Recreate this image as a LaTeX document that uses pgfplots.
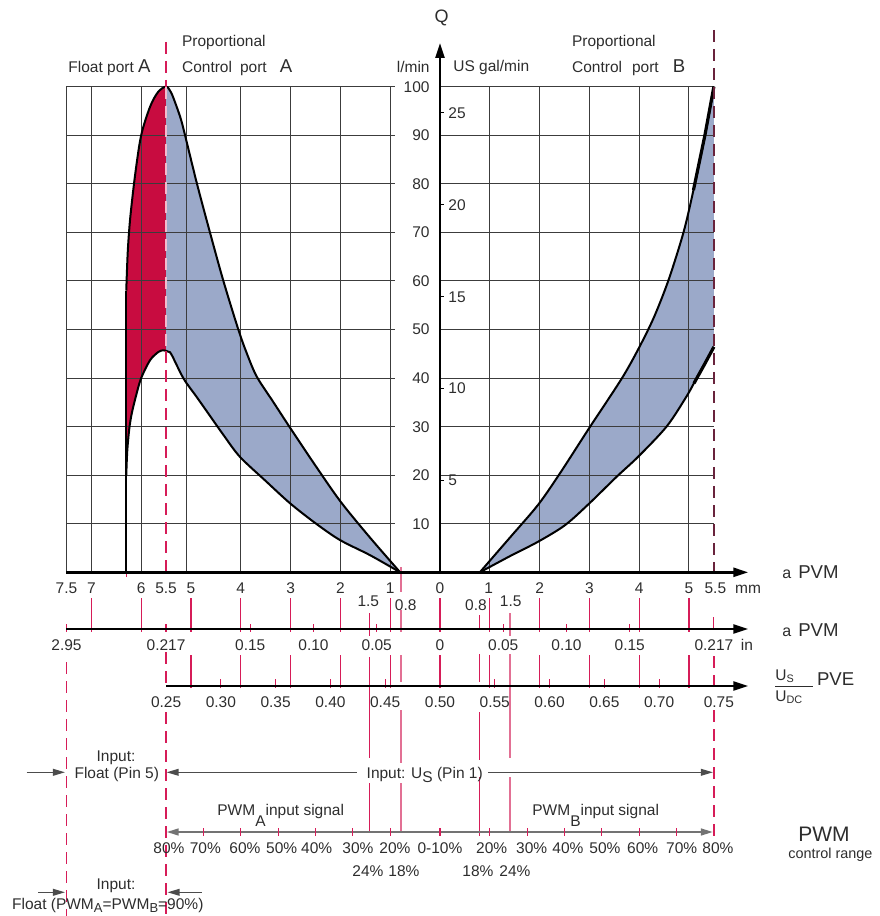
\documentclass[border=0pt]{standalone}
\usepackage{fontspec}
\setmainfont{Liberation Sans}
\usepackage{pgfplots}
\usepackage{pgfplotstable}
\pgfplotsset{compat=1.18}
\usepgfplotslibrary{fillbetween}
\usetikzlibrary{arrows.meta}

\definecolor{floatred}{RGB}{200,12,64}
\definecolor{bandblue}{RGB}{155,169,201}
\definecolor{tickred}{RGB}{214,28,88}
\definecolor{tickpink}{RGB}{226,112,148}
\definecolor{dashdark}{RGB}{105,35,60}
\definecolor{gridc}{RGB}{60,60,60}
\definecolor{txt}{RGB}{45,45,45}

% flow curves, x = spool travel in mm (port A negative), q = l/min
\pgfplotstableread{
x q
-6.30 58
-6.27 66
-6.22 73
-6.12 82
-6.00 90
-5.82 95.9
-5.66 98.9
-5.50 100
-5.40 98.8
-5.30 96.2
-5.20 93.2
-5.12 90
-4.88 80
-4.62 70
-4.35 60
-4.05 50
-3.88 45.1
-3.68 40.3
-3.35 35.1
-3.00 29.6
-2.51 22.1
-2.00 14.6
-1.41 7.2
-0.80 0
}\upperA
\pgfplotstableread{
x q
-6.30 20
-6.28 25
-6.24 29.5
-6.19 32.7
-6.10 36.5
-6.00 40
-5.82 43.7
-5.65 45.4
-5.55 45.7
-5.45 45.4
-5.39 44.8
-5.15 39.9
-4.90 36.3
-4.68 33.1
-4.35 28.3
-4.02 23.8
-3.50 18.8
-3.01 14.2
-2.50 10.1
-2.01 6.65
-1.40 3.5
-0.80 0
}\lowerA
\pgfplotstableread{
x q
0.80 0
1.40 7.1
1.97 13.9
2.41 20.4
2.99 29.6
3.65 39.9
4.00 46.3
4.30 52.6
4.59 60.2
4.89 70
5.09 78.7
5.32 90
5.50 100
}\upperB
\pgfplotstableread{
x q
0.80 0
1.40 3.3
1.97 6.3
2.51 9.7
2.99 14.1
3.55 19.7
3.98 23.8
4.55 30
4.95 36.2
5.15 39.9
5.50 46.4
}\lowerB

\begin{document}
\begin{tikzpicture}[
  lab/.style={anchor=base, inner sep=0pt, text=txt, font=\fontsize{7.75}{9}\selectfont},
  tk/.style={draw=tickred, line width=0.6pt},
  tkp/.style={draw=tickpink, line width=0.9pt},
  dsh/.style={draw=tickred, line width=0.7pt, dash pattern=on 6pt off 3.5pt},
  ax/.style={line width=1.25pt, -{Triangle[length=7.5pt,width=4.5pt]}},
  thinarr/.style={draw=black!70, line width=0.6pt, -{Triangle[length=6pt,width=3.4pt]}},
  px/.style={x=24.9pt, y=-0.5pt, yshift=286.15pt},
]
% grid (x in mm, y in pixel rows)
\begin{scope}[px]
\foreach \q in {10,20,...,100} {
  \draw[gridc, line width=0.5pt] (-7.5,{572.3-4.857*\q}) -- (-0.9,{572.3-4.857*\q});
  \draw[gridc, line width=0.5pt] (0,{572.3-4.857*\q}) -- (5.5,{572.3-4.857*\q});
}
\foreach \m in {-7.5,-7,-6,-5.1,-4,-3,-2,-1,1,2,3,4,5}
  \draw[gridc, line width=0.5pt] (\m,86.6) -- (\m,572.3);
\end{scope}

\begin{axis}[
  anchor=origin, at={(0,0)},
  x=24.9pt, y=2.4285pt,
  xmin=-7.5, xmax=5.5, ymin=0, ymax=100,
  axis lines=none, xtick=\empty, ytick=\empty,
  clip=false,
]
\addplot[draw=none, name path=uA, smooth] table {\upperA};
\addplot[draw=none, name path=lA, smooth] table {\lowerA};
\addplot[draw=none, name path=uB, smooth] table {\upperB};
\addplot[draw=none, name path=lB, smooth] table {\lowerB};
\addplot[floatred] fill between[of=uA and lA, soft clip={domain=-6.3:-5.5}];
\addplot[bandblue] fill between[of=uA and lA, soft clip={domain=-5.5:-0.8}];
\addplot[bandblue] fill between[of=uB and lB];
\addplot[black, line width=1pt, smooth] table {\upperA};
\addplot[black, line width=1pt, smooth] table {\lowerA};
\addplot[black, line width=1pt] coordinates {(-6.3,0) (-6.3,58)};
\addplot[black, line width=1pt, smooth] table {\upperB};
\addplot[black, line width=1pt, smooth] table {\lowerB};
\addplot[black, line width=1.6pt] coordinates {(5.09,78.7) (5.32,90) (5.5,100)};
\addplot[black, line width=1.6pt] coordinates {(5.1,38.9) (5.3,42.6) (5.5,46.4)};
\end{axis}

\begin{scope}[px]
% dashed limits
\draw[dsh] (-5.5,42) -- (-5.5,86.6);
\draw[dsh, draw=white!70!tickred] (-5.5,86.6) -- (-5.5,351);
\draw[dsh] (-5.5,351) -- (-5.5,576);
\draw[dsh, draw=dashdark] (5.5,30) -- (5.5,572.3);
\draw[dsh] (-5.5,652) -- (-5.5,688);
\draw[dsh] (-5.5,712) -- (-5.5,916);
\draw[dsh] (-7.5,662) -- (-7.5,916);
\draw[dsh] (5.5,656) -- (5.5,688);
\draw[dsh] (5.5,710) -- (5.5,840);
\draw[tk] (-6.3,572.3) -- (-6.3,577);

% connectors between the scales
\foreach \m in {-7,-6,-5,-4,-3,-2,-1,0,1,2,3,4,5} \draw[tk] (\m,598) -- (\m,632);
\foreach \m in {-5,-4,-3,-2,-1,0,1,2,3,4,5} \draw[tk] (\m,655) -- (\m,688);
\foreach \m in {-7.5,-5.5,-3.81,-2.54,-1.27,1.27,2.54,3.81} \draw[tk] (\m,624) -- (\m,632);
\draw[tk] (5.5,617) -- (5.5,630);
\foreach \m in {-4.4,-3.3,-2.2,-1.1,1.1,2.2,3.3,4.4} \draw[tk] (\m,679) -- (\m,688);
% 1.5 mm / 24 % and 0.8 mm / 18 % lines
\draw[tk] (-1.42,613) -- (-1.42,636);
\draw[tk] (-1.42,657) -- (-1.42,758) (-1.42,783) -- (-1.42,832);
\draw[tkp] (1.41,613) -- (1.41,636);
\draw[tkp] (1.41,654) -- (1.41,758) (1.41,777) -- (1.41,832);
\draw[tkp] (-0.78,567) -- (-0.78,592) (-0.78,610) -- (-0.78,632) (-0.78,655) -- (-0.78,682);
\draw[tkp] (-0.78,710) -- (-0.78,763) (-0.78,783) -- (-0.78,833);
\draw[tk] (0.79,615) -- (0.79,630) (0.79,654) -- (0.79,682);
\draw[tk] (0.79,712) -- (0.79,760) (0.79,777) -- (0.79,836);

% scales
\draw[ax] (-7.5,572.3) -- (6.19,572.3);
\draw[ax] (-7.5,629) -- (6.19,629);
\draw[ax] (-5.5,686) -- (6.19,686);
\draw[ax] (0,572.3) -- (0,43);

% y labels
\foreach \q in {10,20,...,100}
  \node[lab, anchor=base east] at (-0.201,{577.8-4.857*\q}) {\q};
\foreach \g in {5,10,...,25} {
  \draw[black, line width=0.5pt] (0,{572.3-4.857*3.785*\g}) -- (0.08,{572.3-4.857*3.785*\g});
  \node[lab, anchor=base west] at (0.161,{577.8-4.857*3.785*\g}) {\g};
}
\node[lab, font=\fontsize{9}{10}\selectfont] at (0.034,22.5) {Q};
\node[lab, anchor=base east] at (-0.201,72.5) {l/min};
\node[lab, anchor=base west] at (0.261,72) {US gal/min};
\node[lab, anchor=base west] at (-7.470,73) {Float port {\fontsize{9.3}{11}\selectfont A}};
\node[lab, anchor=base west] at (-5.187,47) {Proportional};
\node[lab, anchor=base west] at (-5.187,73) {Control\hspace{4pt}port\hspace{6.5pt}{\fontsize{9.3}{11}\selectfont A}};
\node[lab, anchor=base west] at (2.645,47) {Proportional};
\node[lab, anchor=base west] at (2.645,73) {Control\hspace{5pt}port\hspace{7pt}{\fontsize{9.3}{11}\selectfont B}};

% scale labels
\foreach \m/\l in {-7.5/7.5,-7/7,-6/6,-5.5/5.5,-5/5,-4/4,-3/3,-2/2,-1/1,0/0,0.98/1,2/2,3/3,4/4,5/5,5.53/5.5}
  \node[lab] at (\m,593.8) {\l};
\node[lab] at (6.185,593.5) {mm};
\node[lab] at (-1.44,606.7) {1.5};
\node[lab] at (-0.689,610) {0.8};
\node[lab] at (0.723,610) {0.8};
\node[lab] at (1.42,606.7) {1.5};
\foreach \m/\l in {-7.5/2.95,-5.5/0.217,-3.81/0.15,-2.54/0.10,-1.27/0.05,0/0,1.27/0.05,2.54/0.10,3.81/0.15,5.5/0.217}
  \node[lab] at (\m,650.7) {\l};
\node[lab] at (6.165,650.5) {in};
\foreach \m/\l in {-5.5/0.25,-4.4/0.30,-3.3/0.35,-2.2/0.40,-1.1/0.45,0/0.50,1.1/0.55,2.2/0.60,3.3/0.65,4.4/0.70,5.6/0.75}
  \node[lab] at (\m,707.7) {\l};

% right-hand scale names
\node[lab, anchor=base west] at (6.867,578) {{\fontsize{8}{9}\selectfont a}\hspace{3.5pt}{\fontsize{9.3}{11}\selectfont PVM}};
\node[lab, anchor=base west] at (6.867,636.7) {{\fontsize{8}{9}\selectfont a}\hspace{3.5pt}{\fontsize{9.3}{11}\selectfont PVM}};
\draw[txt, line width=0.5pt] (6.727,686) -- (7.496,686);
\node[lab, anchor=base west] at (6.727,680.7) {U\textsubscript{S}};
\node[lab, anchor=base west] at (6.727,701.7) {U\textsubscript{DC}};
\node[lab, anchor=base west, font=\fontsize{9.3}{11}\selectfont] at (7.564,685) {PVE};

% input annotations
\node[lab] at (-6.506,761.7) {Input:};
\node[lab] at (-6.49,778.3) {Float (Pin 5)};
\draw[thinarr] (-8.30,772.3) -- (-7.53,772.3);
\draw[thinarr] (-1.672,772.3) -- (-5.49,772.3);
\draw[thinarr] (0.97,772.3) -- (5.48,772.3);
\node[lab] at (-0.307,778) {Input: U\raisebox{-2.3pt}{S} (Pin 1)};
\node[lab, anchor=base west] at (-4.478,815) {PWM\raisebox{-5.5pt}{A}input signal};
\node[lab, anchor=base west] at (1.847,815) {PWM\raisebox{-5.5pt}{B}input signal};

% PWM scale
\draw[draw=black!55, line width=1pt, {Triangle[length=6pt,width=3.4pt]}-{Triangle[length=6pt,width=3.4pt]}] (-5.488,832) -- (5.48,832);
\foreach \m in {-4.75,-4,-3.25,-2.5,-1.75,-1,0,1,1.75,2.5,3.25,4,4.75} \draw[tk] (\m,828) -- (\m,836);
\foreach \m/\l in {-5.442/80,-4.713/70,-3.916/60,-3.179/50,-2.476/40,-1.647/30,-0.904/20,1.038/20,1.841/30,2.570/40,3.313/50,4.070/60,4.853/70,5.582/80}
  \node[lab] at (\m,853.3) {\l\%};
\node[lab] at (0,853.3) {0-10\%};
\node[lab] at (-1.446,876.7) {24\%};
\node[lab] at (-0.723,876.7) {18\%};
\node[lab] at (0.763,876.7) {18\%};
\node[lab] at (1.506,876.7) {24\%};
\node[lab, font=\fontsize{10.5}{12}\selectfont] at (7.711,841.7) {PWM};
\node[lab, font=\fontsize{7.2}{8}\selectfont] at (7.841,858.5) {control range};

% float input
\node[lab] at (-6.506,889) {Input:};
\node[lab, anchor=base west] at (-8.600,909) {Float (PWM\raisebox{-1.5pt}{\fontsize{6.5}{7}\selectfont A}=PWM\raisebox{-1.5pt}{\fontsize{6.5}{7}\selectfont B}=90\%)};
\draw[thinarr] (-8.072,892.3) -- (-7.53,892.3);
\draw[thinarr] (-4.785,892.3) -- (-5.47,892.3);
\end{scope}

\pgfresetboundingbox
\begin{scope}[px]
\path (-8.8353,0) rectangle (8.8353,916);
\end{scope}
\end{tikzpicture}
\end{document}
